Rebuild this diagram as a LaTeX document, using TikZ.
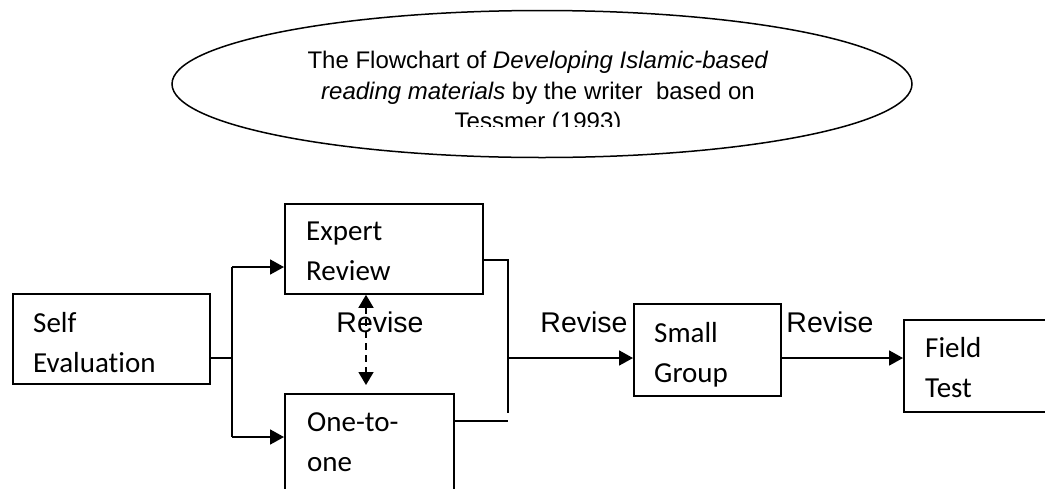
\documentclass[tikz,border=0pt]{standalone}
\usepackage{xcolor}
\usepackage{fontspec}
\usepackage{tikz}
\usetikzlibrary{arrows.meta,shapes.geometric}
\newfontfamily\calibrifont[Ligatures=NoCommon]{Carlito}
\newfontfamily\arialfont{Liberation Sans}

\tikzset{
  stagebox/.style={draw, line width=1.8pt, anchor=north west, inner sep=0pt},
  stagetext/.style={anchor=north west, inner sep=0pt, align=left, font=\calibrifont\fontsize{29}{40}\selectfont, execute at begin node=\strut},
  revisetext/.style={anchor=base, inner sep=0pt, font=\arialfont\fontsize{28.5}{34}\selectfont},
  link/.style={line width=1.8pt},
  flow/.style={line width=1.8pt, -{Triangle[length=14pt,width=15pt]}},
  dashflow/.style={line width=1.5pt, dash pattern=on 7pt off 5pt, {Triangle[length=13pt,width=15pt]}-{Triangle[length=13pt,width=15pt]}},
}

\begin{document}
\begin{tikzpicture}[x=1pt,y=1pt,yscale=-1,xscale=1]
\useasboundingbox (0,0) rectangle (1045,488);

%Shape: Ellipse
\node[draw, ellipse, line width=1.5pt, inner sep=0pt, minimum width=740pt, minimum height=147pt] (title) at (542,84) {};
% Text Node
\begin{scope}
\clip (0,0) rectangle (1045,126);
\node[anchor=north, inner sep=0pt, align=center, font=\arialfont\fontsize{24}{30.5}\selectfont, execute at begin node=\strut] (titletext) at (538,51) {The Flowchart of \textit{Developing Islamic-based}\\\textit{reading materials} by the writer\ \ based on\\Tessmer (1993)};
\end{scope}

%Shape: Rectangle
\node[stagebox, minimum width=197pt, minimum height=90pt] (self) at (12,293) {};
%Shape: Rectangle
\node[stagebox, minimum width=198pt, minimum height=90pt] (expert) at (284,203) {};
%Shape: Rectangle
\node[stagebox, minimum width=169pt, minimum height=130pt] (onetoone) at (284,393) {};
%Shape: Rectangle
\node[stagebox, minimum width=147pt, minimum height=92pt] (small) at (633,303) {};
%Shape: Rectangle
\node[stagebox, minimum width=200pt, minimum height=92pt] (field) at (903,319) {};

% Text Node
\node[stagetext] (selftext) at (33,312) {Self\\Evaluation};
% Text Node
\node[stagetext] (experttext) at (306,222) {Expert\\Review};
% Text Node
\node[stagetext] (onetext) at (307,412) {One-to-\\one};
% Text Node
\node[stagetext] (smalltext) at (654,322) {Small\\Group};
% Text Node
\node[stagetext] (fieldtext) at (925,337) {Field\\Test};

\coordinate (split) at (232,358);
\coordinate (splittop) at (232,267);
\coordinate (splitbot) at (232,437);
\coordinate (mergetop) at (508,260);
\coordinate (mergebot) at (508,413);
\coordinate (mergelow) at (508,421);
\coordinate (merge) at (508,358);
\coordinate (revtip) at (366,385);

%Straight Lines
\draw[link] (self.east |- split) -- (split);
\draw[link] (splittop) -- (splitbot);
\draw[flow] (splittop) -- (expert.west |- splittop);
\draw[flow] (splitbot) -- (onetoone.west |- splitbot);
%Straight Lines
\draw[link] (expert.east |- mergetop) -- (mergetop) -- (mergebot);
\draw[link] (onetoone.east |- mergelow) -- (mergelow);
\draw[flow] (merge) -- (small.west |- merge);
\draw[flow] (small.east |- merge) -- (field.west |- merge);
%Straight Lines
\draw[dashflow] (expert.south -| revtip) -- (revtip);

% Text Node
\node[revisetext] (revise1) at (380,332) {Revise};
% Text Node
\node[revisetext] (revise2) at (584,332) {Revise};
% Text Node
\node[revisetext] (revise3) at (830,332) {Revise};

\end{tikzpicture}
\end{document}
